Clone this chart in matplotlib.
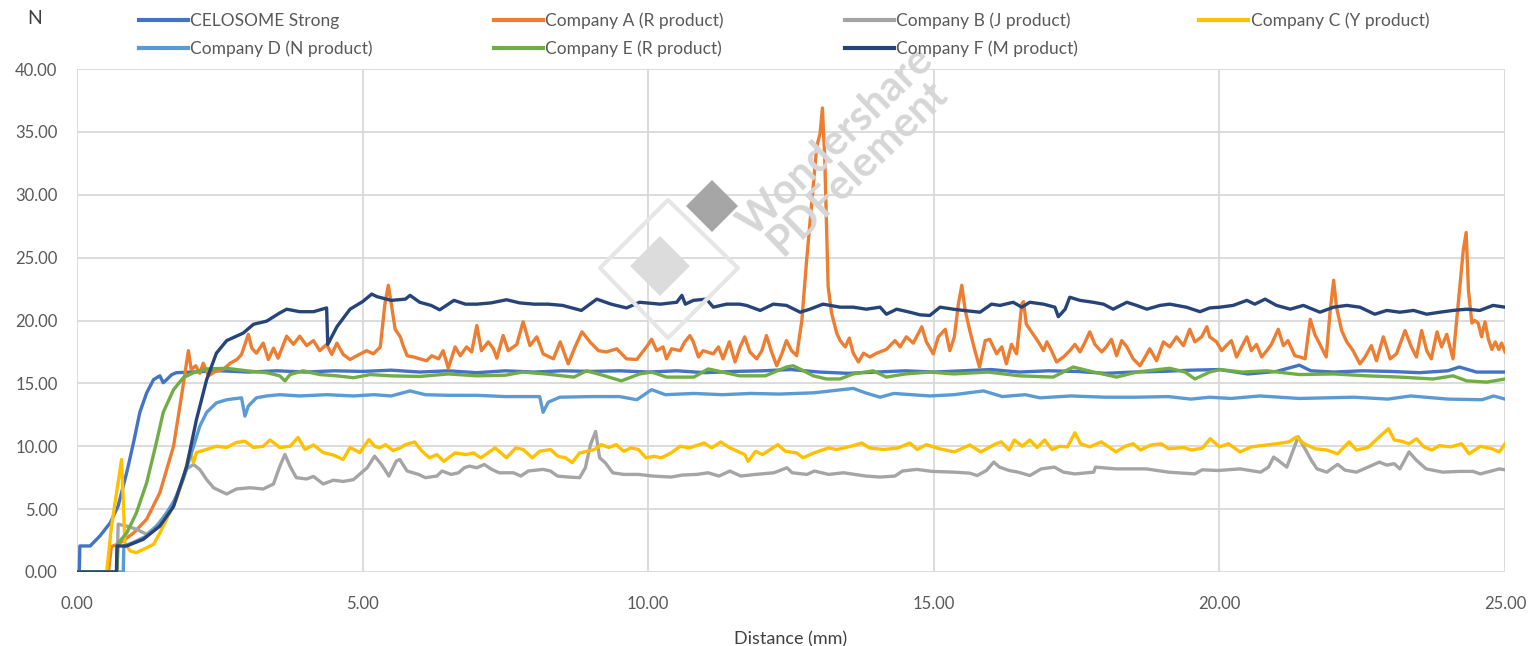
import matplotlib
matplotlib.use("Agg")
import matplotlib.pyplot as plt
from matplotlib.lines import Line2D
from matplotlib.patches import Polygon
from matplotlib.ticker import FormatStrFormatter

plt.rcParams['font.family'] = ['Lato', 'DejaVu Sans']

# ---- data (distance in mm, force in N) ----
celo_x = [0, 0.04, 0.05, 0.23, 0.4, 0.58, 0.72, 0.87, 0.99, 1.1, 1.22, 1.34, 1.45, 1.51, 1.57, 1.66, 1.74,
          2.0, 2.5, 3.0, 3.5, 4.0, 4.5, 5.0, 5.5, 6.0, 6.5, 7.0, 7.5, 8.0, 8.5, 9.0, 9.5, 10.0, 10.5, 11.0,
          11.5, 12.0, 12.5, 13.0, 13.5, 14.0, 14.5, 15.0, 15.5, 16.0, 16.5, 17.0, 17.5, 18.0, 18.5, 19.0,
          19.5, 20.0, 20.5, 21.0, 21.4, 21.6, 22.0, 22.5, 23.0, 23.5, 24.0, 24.2, 24.5, 25.0]
celo_y = [0, 0, 2.07, 2.07, 2.86, 3.9, 5.25, 7.9, 10.3, 12.7, 14.25, 15.3, 15.6, 15.05, 15.3, 15.7, 15.85,
          15.9, 16.0, 15.9, 16.0, 15.9, 16.0, 15.95, 16.05, 15.9, 16.0, 15.85, 16.0, 15.9, 16.0, 15.95, 16.0,
          15.9, 16.0, 15.85, 15.95, 16.0, 16.1, 15.9, 15.8, 15.9, 16.0, 15.9, 16.0, 16.1, 15.9, 16.0, 15.95,
          15.8, 15.9, 15.95, 16.05, 16.1, 15.75, 15.95, 16.45, 16.0, 15.9, 16.0, 15.95, 15.85, 16.0, 16.3,
          15.9, 15.9]

comp_a_x = [0, 0.55, 0.6, 0.75, 0.99, 1.22, 1.45, 1.69, 1.83, 1.95, 2.0, 2.08, 2.15, 2.21, 2.3, 2.44, 2.56,
            2.68, 2.8, 2.88, 3.0, 3.06, 3.14, 3.26, 3.35, 3.44, 3.52, 3.67, 3.79, 3.9, 4.02, 4.14, 4.25, 4.37,
            4.46, 4.55, 4.66, 4.78, 4.9, 5.07, 5.19, 5.31, 5.39, 5.45, 5.51, 5.57, 5.66, 5.71, 5.78, 5.89,
            6.0, 6.12, 6.21, 6.33, 6.41, 6.5, 6.62, 6.71, 6.82, 6.91, 7.0, 7.08, 7.2, 7.29, 7.35, 7.46, 7.55,
            7.7, 7.81, 7.93, 8.05, 8.16, 8.34, 8.46, 8.6, 8.72, 8.84, 8.98, 9.13, 9.27, 9.45, 9.62, 9.8,
            9.97, 10.06, 10.15, 10.26, 10.32, 10.41, 10.56, 10.64, 10.73, 10.79, 10.88, 10.96, 11.14, 11.23,
            11.31, 11.42, 11.52, 11.61, 11.69, 11.78, 11.9, 11.99, 12.07, 12.16, 12.25, 12.34, 12.42, 12.51,
            12.6, 12.69, 12.77, 12.95, 13.01, 13.05, 13.09, 13.15, 13.21, 13.3, 13.36, 13.45, 13.52, 13.59,
            13.68, 13.77, 13.88, 14.0, 14.17, 14.32, 14.41, 14.52, 14.64, 14.79, 14.87, 14.99, 15.08, 15.2,
            15.28, 15.36, 15.43, 15.49, 15.55, 15.63, 15.72, 15.8, 15.9, 15.98, 16.1, 16.19, 16.27, 16.36,
            16.45, 16.54, 16.57, 16.62, 16.74, 16.83, 16.92, 16.98, 17.06, 17.15, 17.27, 17.38, 17.47,
            17.56, 17.65, 17.73, 17.82, 17.94, 18.02, 18.11, 18.2, 18.29, 18.38, 18.49, 18.61, 18.7, 18.78,
            18.9, 19.02, 19.13, 19.25, 19.37, 19.48, 19.57, 19.69, 19.78, 19.83, 19.95, 20.04, 20.12, 20.21,
            20.3, 20.39, 20.48, 20.56, 20.65, 20.74, 20.83, 20.91, 21.03, 21.12, 21.2, 21.32, 21.41, 21.5,
            21.59, 21.67, 21.76, 21.87, 21.94, 22.0, 22.05, 22.14, 22.23, 22.34, 22.46, 22.55, 22.66, 22.75,
            22.87, 22.99, 23.1, 23.25, 23.36, 23.45, 23.54, 23.63, 23.71, 23.81, 23.89, 23.98, 24.09, 24.18,
            24.27, 24.32, 24.36, 24.42, 24.47, 24.53, 24.59, 24.65, 24.71, 24.77, 24.83, 24.89, 24.94, 25.0]
comp_a_y = [0, 0, 2.0, 2.3, 3.1, 4.2, 6.3, 10.0, 14.0, 17.6, 16.1, 16.4, 15.8, 16.6, 15.6, 16.0, 16.1,
            16.6, 16.9, 17.3, 18.9, 17.8, 17.4, 18.2, 16.9, 17.8, 17.0, 18.75, 18.1, 18.75, 18.0, 18.4, 17.6,
            18.1, 17.3, 18.2, 17.3, 16.9, 17.2, 17.6, 17.35, 17.9, 21.3, 22.8, 21.1, 19.3, 18.7, 18.0, 17.2,
            17.1, 16.95, 16.8, 17.2, 16.95, 17.6, 16.2, 17.9, 17.2, 17.9, 17.5, 19.6, 17.6, 18.3, 17.75, 17.0,
            18.8, 17.6, 18.1, 19.9, 18.0, 18.7, 17.35, 16.95, 18.3, 16.55, 17.9, 19.1, 18.3, 17.6, 17.5,
            17.75, 16.95, 16.9, 17.9, 18.5, 17.6, 17.9, 16.95, 17.75, 17.6, 18.3, 18.8, 18.3, 17.1, 17.6,
            17.35, 17.9, 16.95, 18.3, 16.7, 17.9, 18.7, 17.5, 16.95, 17.6, 18.8, 17.5, 16.4, 17.35, 18.4,
            17.6, 17.2, 20.0, 24.6, 33.8, 34.9, 36.9, 33.0, 22.7, 20.6, 19.0, 18.4, 17.9, 18.6, 17.4, 16.7,
            17.4, 17.1, 17.4, 17.7, 18.4, 17.9, 18.7, 18.2, 19.5, 18.3, 17.35, 18.7, 19.3, 17.6, 18.7, 21.3,
            22.8, 20.8, 19.2, 17.6, 16.3, 18.4, 18.5, 17.35, 17.9, 16.55, 18.1, 17.35, 21.3, 21.5, 19.7, 18.9,
            18.3, 17.6, 18.3, 17.6, 16.7, 17.1, 17.6, 18.1, 17.5, 18.3, 19.1, 18.1, 17.5, 17.9, 18.5, 17.2,
            18.4, 17.9, 16.95, 16.4, 17.1, 17.75, 16.8, 18.3, 17.9, 18.7, 18.0, 19.3, 18.3, 18.7, 19.5, 18.7,
            18.3, 17.6, 18.0, 18.4, 17.1, 17.9, 18.7, 17.6, 18.1, 17.1, 17.6, 18.1, 19.3, 18.0, 18.4, 17.2,
            17.1, 16.95, 20.1, 18.9, 18.1, 17.1, 20.8, 23.2, 21.06, 19.2, 18.3, 17.6, 16.55, 17.1, 18.0, 16.8,
            18.7, 16.95, 17.35, 19.2, 17.9, 17.1, 19.2, 17.6, 16.95, 19.1, 17.9, 18.9, 16.95, 21.3, 25.6,
            27.0, 22.4, 19.8, 20.0, 19.8, 18.7, 19.9, 18.5, 17.7, 18.3, 17.7, 18.2, 17.5]

comp_b_x = [0, 0.7, 0.72, 0.87, 1.04, 1.22, 1.39, 1.57, 1.74, 1.92, 2.04, 2.15, 2.27, 2.39, 2.62, 2.79, 3.03,
            3.26, 3.44, 3.55, 3.64, 3.73, 3.84, 4.02, 4.14, 4.31, 4.49, 4.66, 4.84, 5.08, 5.21, 5.33, 5.46,
            5.59, 5.65, 5.78, 5.98, 6.1, 6.3, 6.39, 6.55, 6.68, 6.78, 6.87, 7.0, 7.13, 7.26, 7.39, 7.64, 7.77,
            7.9, 8.16, 8.29, 8.41, 8.61, 8.8, 8.9, 8.99, 9.08, 9.15, 9.25, 9.38, 9.57, 9.83, 10.08, 10.4,
            10.6, 10.85, 11.05, 11.24, 11.43, 11.62, 11.88, 12.2, 12.43, 12.52, 12.78, 12.91, 13.16, 13.42,
            13.81, 14.06, 14.32, 14.45, 14.7, 14.97, 15.36, 15.63, 15.76, 15.92, 16.05, 16.15, 16.32, 16.48,
            16.68, 16.88, 17.11, 17.27, 17.47, 17.8, 17.83, 18.19, 18.72, 19.11, 19.57, 19.7, 19.97, 20.36,
            20.72, 20.86, 20.95, 21.05, 21.18, 21.38, 21.48, 21.61, 21.71, 21.88, 22.07, 22.2, 22.4, 22.8,
            22.93, 23.06, 23.16, 23.32, 23.45, 23.62, 23.91, 24.2, 24.44, 24.57, 24.9, 25.0]
comp_b_y = [0, 0, 3.8, 3.65, 3.4, 3.0, 3.65, 4.7, 6.0, 8.2, 8.55, 8.15, 7.35, 6.7, 6.2, 6.6, 6.7, 6.6, 7.0,
            8.4, 9.35, 8.4, 7.5, 7.4, 7.6, 7.0, 7.3, 7.2, 7.35, 8.29, 9.21, 8.55, 7.63, 8.82, 8.95, 8.03,
            7.76, 7.5, 7.63, 8.03, 7.76, 7.89, 8.29, 8.42, 8.29, 8.55, 8.16, 7.89, 7.89, 7.63, 8.03, 8.16,
            8.03, 7.63, 7.55, 7.5, 8.29, 10.13, 11.18, 9.08, 8.68, 7.89, 7.76, 7.76, 7.63, 7.55, 7.71, 7.76,
            7.89, 7.63, 8.03, 7.63, 7.76, 7.89, 8.29, 7.89, 7.76, 8.03, 7.76, 7.89, 7.63, 7.55, 7.63, 8.03,
            8.16, 8.0, 7.94, 7.86, 7.67, 8.07, 8.74, 8.34, 8.07, 7.94, 7.67, 8.2, 8.34, 7.94, 7.8, 7.94, 8.34,
            8.2, 8.2, 7.94, 7.8, 8.13, 8.07, 8.2, 7.94, 8.34, 9.14, 8.8, 8.34, 10.75, 9.95, 8.88, 8.2, 7.94,
            8.56, 8.1, 7.94, 8.74, 8.5, 8.61, 8.2, 9.55, 8.88, 8.2, 7.94, 8.0, 8.0, 7.8, 8.2, 8.13]

comp_c_x = [0, 0.52, 0.6, 0.7, 0.78, 0.84, 0.93, 1.04, 1.22, 1.34, 1.45, 1.57, 1.74, 1.86, 1.98, 2.04, 2.09,
            2.27, 2.44, 2.62, 2.79, 2.94, 3.09, 3.26, 3.38, 3.55, 3.73, 3.87, 3.99, 4.14, 4.31, 4.49, 4.66,
            4.78, 4.95, 5.11, 5.21, 5.3, 5.4, 5.53, 5.66, 5.75, 5.91, 6.04, 6.17, 6.3, 6.42, 6.62, 6.81, 6.94,
            7.07, 7.32, 7.52, 7.68, 7.81, 7.97, 8.1, 8.29, 8.42, 8.55, 8.67, 8.8, 8.93, 9.06, 9.18, 9.31, 9.44,
            9.57, 9.7, 9.83, 9.96, 10.1, 10.23, 10.4, 10.56, 10.72, 10.98, 11.11, 11.27, 11.43, 11.69, 11.75,
            11.88, 12.0, 12.27, 12.4, 12.6, 12.71, 12.9, 13.16, 13.3, 13.55, 13.74, 13.87, 14.12, 14.38,
            14.58, 14.71, 14.87, 15.1, 15.36, 15.63, 15.82, 16.09, 16.18, 16.32, 16.41, 16.55, 16.68, 16.81,
            16.94, 17.07, 17.2, 17.34, 17.47, 17.57, 17.73, 17.93, 18.06, 18.19, 18.35, 18.49, 18.62, 18.8,
            18.98, 19.11, 19.38, 19.51, 19.7, 19.84, 20.0, 20.16, 20.36, 20.56, 20.82, 21.0, 21.22, 21.35,
            21.48, 21.68, 21.88, 22.07, 22.27, 22.4, 22.6, 22.8, 22.96, 23.06, 23.19, 23.32, 23.45, 23.58,
            23.72, 23.85, 24.05, 24.24, 24.37, 24.57, 24.77, 24.9, 25.0]
comp_c_y = [0, 0, 3.5, 6.5, 8.95, 2.3, 1.67, 1.54, 1.93, 2.2, 3.1, 4.2, 5.8, 7.4, 9.6, 8.7, 9.5, 9.75, 10.0,
            9.9, 10.3, 10.4, 9.9, 10.0, 10.5, 9.9, 10.0, 10.7, 9.75, 10.1, 9.5, 9.3, 8.95, 9.9, 9.5, 10.53,
            10.0, 9.87, 10.13, 9.66, 9.87, 10.13, 10.34, 9.6, 9.08, 9.34, 8.8, 9.47, 9.34, 9.47, 9.08, 9.87,
            9.08, 9.87, 9.74, 9.08, 9.6, 9.74, 9.2, 9.08, 8.7, 9.47, 9.6, 9.74, 10.13, 9.9, 10.13, 9.6, 9.87,
            9.74, 9.08, 9.2, 9.08, 9.47, 10.0, 9.87, 10.26, 9.87, 10.34, 9.87, 9.34, 8.8, 9.6, 9.34, 10.13,
            9.6, 9.47, 9.08, 9.47, 9.87, 9.74, 10.0, 10.26, 9.87, 9.74, 9.87, 10.26, 9.74, 10.13, 9.8, 9.55,
            10.1, 9.55, 10.2, 10.35, 9.7, 10.5, 10.0, 10.5, 9.9, 10.5, 9.73, 10.0, 9.95, 11.07, 10.2, 9.95,
            10.35, 9.95, 9.55, 10.0, 10.2, 9.7, 10.1, 10.2, 9.8, 9.9, 9.7, 9.85, 10.6, 9.95, 10.2, 9.55,
            9.95, 10.1, 10.2, 10.35, 10.75, 10.2, 9.8, 9.7, 9.4, 10.35, 9.7, 9.9, 10.75, 11.4, 10.5, 10.4,
            10.2, 10.6, 9.95, 9.7, 10.05, 9.95, 10.2, 9.4, 10.0, 9.8, 9.55, 10.2]

comp_d_x = [0, 0.81, 0.82, 0.96, 1.22, 1.45, 1.69, 1.86, 2.04, 2.15, 2.27, 2.44, 2.62, 2.88, 2.94, 3.0, 3.14,
            3.32, 3.55, 3.9, 4.37, 4.84, 5.2, 5.5, 5.83, 6.1, 6.5, 7.0, 7.5, 8.1, 8.16, 8.25, 8.45, 9.0, 9.5,
            9.8, 10.06, 10.3, 10.8, 11.3, 11.8, 12.3, 12.9, 13.59, 13.8, 14.06, 14.3, 14.93, 15.35, 15.87,
            16.2, 16.6, 16.86, 17.4, 18.0, 18.55, 19.1, 19.5, 19.83, 20.2, 20.71, 21.4, 22.35, 22.95, 23.35,
            24.0, 24.6, 24.8, 25.0]
comp_d_y = [0, 0, 2.07, 2.3, 2.86, 3.9, 5.5, 7.4, 10.0, 11.6, 12.7, 13.45, 13.7, 13.85, 12.4, 13.2, 13.85,
            14.0, 14.1, 14.0, 14.1, 14.0, 14.1, 14.0, 14.4, 14.1, 14.05, 14.05, 13.95, 13.95, 12.7, 13.5,
            13.9, 13.95, 13.95, 13.7, 14.5, 14.1, 14.2, 14.1, 14.2, 14.15, 14.25, 14.6, 14.25, 13.9, 14.2,
            14.0, 14.1, 14.4, 13.95, 14.1, 13.85, 14.0, 13.9, 13.9, 13.95, 13.75, 13.9, 13.8, 14.0, 13.8,
            13.9, 13.75, 14.0, 13.75, 13.7, 14.0, 13.75]

comp_e_x = [0, 0.7, 0.72, 0.87, 1.04, 1.22, 1.39, 1.51, 1.69, 1.86, 2.04, 2.27, 2.62, 2.97, 3.32, 3.55, 3.64,
            3.73, 3.96, 4.25, 4.55, 4.84, 5.13, 5.5, 6.0, 6.5, 7.0, 7.5, 7.8, 8.2, 8.7, 8.92, 9.2, 9.53, 9.85,
            10.06, 10.32, 10.8, 11.05, 11.3, 11.6, 12.05, 12.42, 12.54, 12.72, 12.89, 13.12, 13.36, 13.59,
            13.94, 14.17, 14.5, 14.93, 15.35, 15.95, 16.5, 17.09, 17.44, 17.8, 18.2, 18.55, 19.13, 19.4,
            19.57, 19.83, 20.01, 20.4, 20.83, 21.4, 22.0, 22.58, 23.16, 23.74, 24.09, 24.33, 24.68, 25.0]
comp_e_y = [0, 0, 2.3, 3.1, 4.7, 7.1, 10.3, 12.7, 14.5, 15.45, 15.85, 16.15, 16.2, 16.0, 15.85, 15.6, 15.2,
            15.7, 16.0, 15.7, 15.6, 15.45, 15.7, 15.6, 15.55, 15.75, 15.6, 15.65, 15.9, 15.75, 15.5, 16.0,
            15.65, 15.2, 15.75, 15.9, 15.5, 15.5, 16.15, 15.9, 15.6, 15.6, 16.3, 16.4, 16.0, 15.6, 15.35,
            15.35, 15.75, 16.0, 15.5, 15.75, 15.9, 15.75, 15.9, 15.6, 15.5, 16.3, 15.9, 15.5, 15.9, 16.2,
            15.9, 15.35, 15.9, 16.1, 15.9, 16.0, 15.7, 15.75, 15.6, 15.5, 15.35, 15.6, 15.2, 15.1, 15.35]

comp_f_x = [0, 0.69, 0.7, 0.87, 1.16, 1.45, 1.69, 1.92, 2.09, 2.27, 2.44, 2.62, 2.91, 3.09, 3.32, 3.55, 3.67,
            3.9, 4.14, 4.37, 4.39, 4.55, 4.78, 5.0, 5.16, 5.25, 5.5, 5.75, 5.83, 6.0, 6.2, 6.35, 6.6, 6.8, 7.0,
            7.25, 7.52, 7.75, 8.0, 8.25, 8.5, 8.83, 9.1, 9.35, 9.62, 9.85, 10.21, 10.5, 10.59, 10.65, 10.79,
            11.02, 11.14, 11.37, 11.6, 11.72, 11.96, 12.19, 12.42, 12.66, 12.83, 13.06, 13.36, 13.59, 13.82,
            14.06, 14.17, 14.35, 14.58, 14.76, 14.93, 15.11, 15.34, 15.52, 15.81, 16.01, 16.16, 16.39, 16.54,
            16.68, 16.92, 17.12, 17.18, 17.3, 17.38, 17.56, 17.79, 17.97, 18.14, 18.38, 18.55, 18.73, 18.96,
            19.13, 19.42, 19.66, 19.83, 20.01, 20.24, 20.48, 20.62, 20.8, 21.0, 21.24, 21.47, 21.76, 22.0,
            22.23, 22.46, 22.72, 22.93, 23.16, 23.4, 23.63, 23.86, 24.09, 24.33, 24.56, 24.79, 25.0]
comp_f_y = [0, 0, 2.07, 2.07, 2.6, 3.65, 5.2, 8.4, 12.1, 15.3, 17.4, 18.4, 19.0, 19.7, 19.95, 20.6, 20.9,
            20.7, 20.7, 21.0, 18.1, 19.5, 20.9, 21.5, 22.1, 21.9, 21.6, 21.7, 22.0, 21.45, 21.2, 20.85, 21.6,
            21.3, 21.3, 21.4, 21.65, 21.4, 21.3, 21.3, 21.2, 20.8, 21.7, 21.3, 21.0, 21.45, 21.3, 21.45, 22.0,
            21.3, 21.6, 21.7, 21.06, 21.3, 21.3, 21.2, 20.8, 21.3, 21.2, 20.66, 20.9, 21.3, 21.06, 21.06,
            20.9, 21.06, 20.5, 20.9, 20.66, 20.45, 20.4, 21.06, 20.9, 20.8, 20.66, 21.3, 21.2, 21.45, 21.06,
            21.45, 21.3, 21.06, 20.3, 20.9, 21.85, 21.6, 21.45, 21.3, 20.9, 21.45, 21.2, 20.9, 21.2, 21.3,
            21.06, 20.7, 21.0, 21.06, 21.2, 21.6, 21.3, 21.7, 21.2, 20.9, 21.2, 20.66, 21.06, 21.2, 21.06,
            20.5, 20.8, 20.66, 20.8, 20.5, 20.66, 20.8, 20.9, 20.8, 21.2, 21.06]

series_names = ['CELOSOME Strong', 'Company A (R product)', 'Company B (J product)', 'Company C (Y product)',
                'Company D (N product)', 'Company E (R product)', 'Company F (M product)']
series_colors = ['#4472C4', '#ED7D31', '#A5A5A5', '#FFC000', '#5B9BD5', '#70AD47', '#264478']
series_data = [(celo_x, celo_y), (comp_a_x, comp_a_y), (comp_b_x, comp_b_y), (comp_c_x, comp_c_y),
               (comp_d_x, comp_d_y), (comp_e_x, comp_e_y), (comp_f_x, comp_f_y)]

x_ticks = [0, 5, 10, 15, 20, 25]
y_ticks = [0, 5, 10, 15, 20, 25, 30, 35, 40]

W, H = 1534, 646
fig = plt.figure(figsize=(W / 100, H / 100), dpi=100)
ax = fig.add_axes([77 / W, 1 - 572 / H, (1505 - 77) / W, (572 - 69) / H])


def px(x, y):
    # pixel position in the figure -> figure fraction
    return x / W, 1 - y / H


# faint watermark from the source pdf (drawn first, under the data)
wm = '#D6D6D6'
fig.patches.append(Polygon([px(600, 268), px(668, 200), px(738, 268), px(668, 338)], closed=True,
                           fill=False, ec='#E6E6E6', lw=3, joinstyle='round', transform=fig.transFigure))
fig.patches.append(Polygon([px(630, 266), px(660, 236), px(690, 266), px(660, 296)], closed=True,
                           fc='#DCDCDC', ec='none', transform=fig.transFigure))
fig.patches.append(Polygon([px(686, 206), px(712, 180), px(738, 206), px(712, 232)], closed=True,
                           fc='#A6A6A6', ec='none', transform=fig.transFigure))
fig.text(*px(836, 142), 'Wondershare', fontsize=30, color=wm, rotation=44,
         ha='center', va='center', fontweight='bold')
fig.text(*px(858, 168), 'PDFelement', fontsize=30, color=wm, rotation=44,
         ha='center', va='center', fontweight='bold')
ax.patch.set_alpha(0)

for (xs, ys), name, col in zip(series_data, series_names, series_colors):
    ax.plot(xs, ys, color=col, lw=2.4, label=name, solid_joinstyle='round', zorder=3)

ax.set_xlim(0, 25)
ax.set_ylim(0, 40)
ax.set_xticks(x_ticks)
ax.set_yticks(y_ticks)
ax.xaxis.set_major_formatter(FormatStrFormatter('%.2f'))
ax.yaxis.set_major_formatter(FormatStrFormatter('%.2f'))
ax.tick_params(length=0, labelsize=12, colors='#595959', pad=14)
ax.tick_params(axis='x', pad=17)
ax.grid(True, color='#D9D9D9', lw=1.3, zorder=0)
ax.set_axisbelow(True)
for s in ax.spines.values():
    s.set_visible(False)
ax.set_xlabel('Distance (mm)', fontsize=13, color='#404040', labelpad=14)

fig.text(*px(35, 18), 'N', fontsize=14, color='#404040', ha='center', va='center')

# legend: 4 columns, filled row by row like the original
order = [0, 4, 1, 5, 2, 6, 3]
handles = [Line2D([], [], color=series_colors[i], lw=3) for i in order]
labels = [series_names[i] for i in order]
fig.legend(handles, labels, loc='lower left', ncol=4, mode='expand',
           bbox_to_anchor=(132 / W, 1 - 64 / H, (1436 - 132) / W, 58 / H),
           frameon=False, fontsize=12.5, labelcolor='#595959', handlelength=2.8,
           handletextpad=0.15, labelspacing=0.65, borderaxespad=0)

fig.savefig('out.png', dpi=100)
